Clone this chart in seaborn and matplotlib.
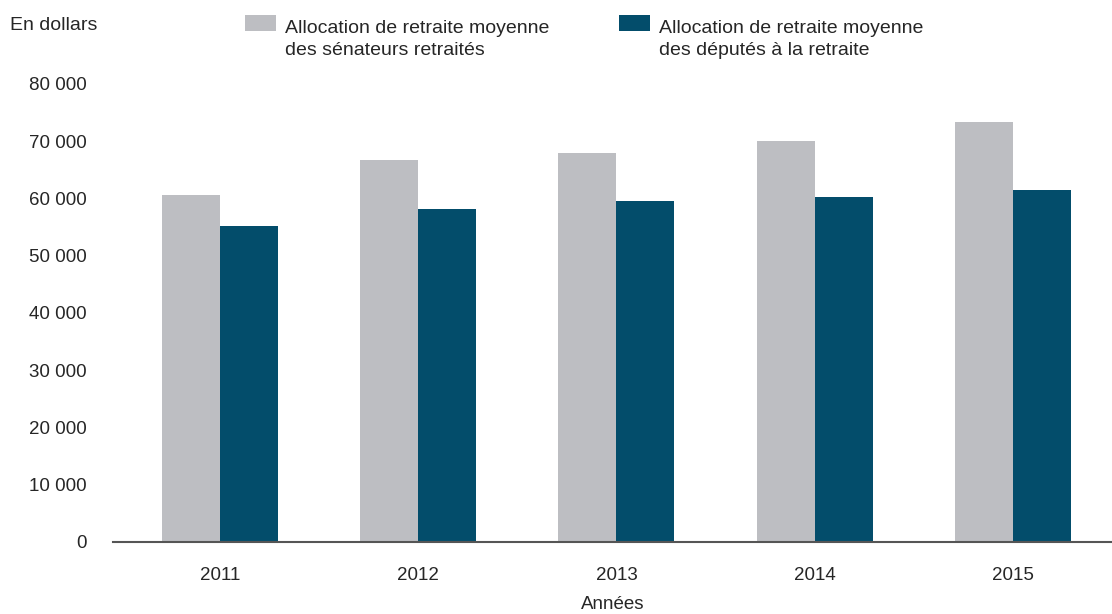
import seaborn as sns
import matplotlib.pyplot as plt
import matplotlib.font_manager as fm
import pandas as pd

# données
years = ['2011', '2012', '2013', '2014', '2015']
senateurs = [60600, 66700, 67900, 70000, 73400]
deputes = [55150, 58100, 59500, 60250, 61550]
series_names = ['Allocation de retraite moyenne\ndes sénateurs retraités',
                'Allocation de retraite moyenne\ndes députés à la retraite']
yticks = [0, 10000, 20000, 30000, 40000, 50000, 60000, 70000, 80000]

df = pd.DataFrame({
    'Année': years * 2,
    'Valeur': senateurs + deputes,
    'Série': [series_names[0]] * len(years) + [series_names[1]] * len(years),
})

sns.set_style('white')
names = {f.name for f in fm.fontManager.ttflist}
font = 'Liberation Sans Narrow' if 'Liberation Sans Narrow' in names else 'Liberation Sans'
plt.rcParams['font.family'] = [font, 'DejaVu Sans']

fig = plt.figure(figsize=(11.12, 6.14), dpi=100)
ax = fig.add_axes([0.1016, 0.1173, 0.8984, 0.7459])

palette = {series_names[0]: '#BDBEC2', series_names[1]: '#034D6B'}
sns.barplot(data=df, x='Année', y='Valeur', hue='Série', palette=palette,
            width=0.585, saturation=1, ax=ax, linewidth=0)

ax.set_xlim(-0.54, 4.5)
ax.set_ylim(0, 80000)
ax.set_yticks(yticks)
ax.set_yticklabels([f'{v:,}'.replace(',', ' ') for v in yticks], fontsize=13.5)
ax.tick_params(axis='y', length=0, pad=19)
ax.tick_params(axis='x', length=0, pad=18, labelsize=13.5)
for s in ['top', 'right', 'left']:
    ax.spines[s].set_visible(False)
ax.spines['bottom'].set_color('#555555')
ax.spines['bottom'].set_linewidth(1.5)
ax.set_ylabel('')
ax.set_xlabel('Années', fontsize=13.5, labelpad=9)

fig.text(0.009, 0.958, 'En dollars', fontsize=14, va='center', ha='left')

handles, labels = ax.get_legend_handles_labels()
leg = ax.legend(handles, labels, ncol=2, loc='upper left', frameon=False, fontsize=14,
                handlelength=1.6, handleheight=0.9, handletextpad=0.45, columnspacing=3.6,
                borderaxespad=0, borderpad=0, labelspacing=0)
leg.set_bbox_to_anchor((0.2203, 0.967), transform=fig.transFigure)
for t in leg.get_texts():
    t.set_linespacing(1.35)
# carré de légende aligné sur la première ligne
for h in leg.legend_handles:
    h.set_y(h.get_y() + 12)

plt.savefig('out.png', dpi=100)
